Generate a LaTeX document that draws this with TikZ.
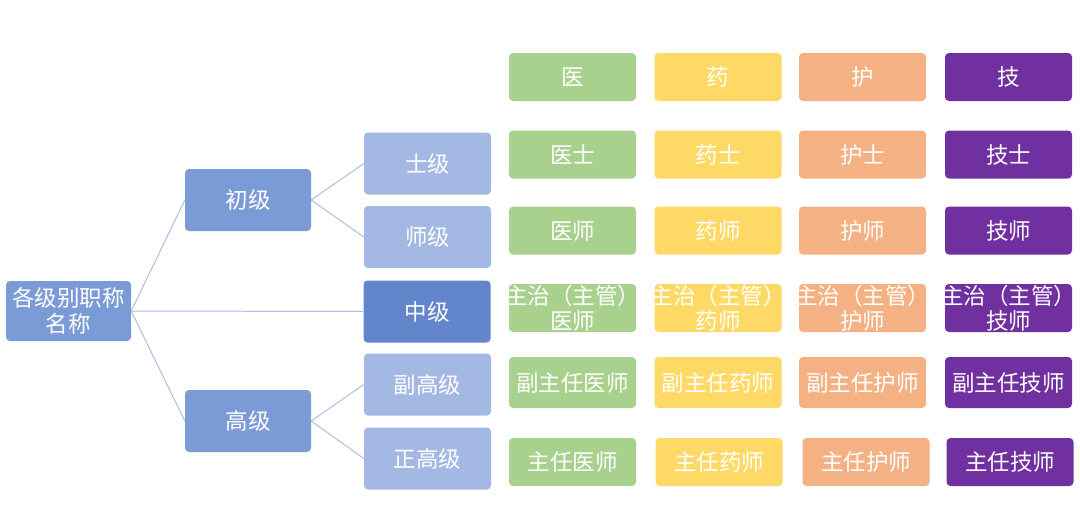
\documentclass[tikz,border=0pt]{standalone}
\usepackage{fontspec}
\newfontfamily\cjk{Noto Sans CJK SC}
\definecolor{cmed}{HTML}{A9D18E}
\definecolor{cyao}{HTML}{FFD966}
\definecolor{chu}{HTML}{F4B183}
\definecolor{cji}{HTML}{7030A0}
\definecolor{bmain}{HTML}{7B9BD6}
\definecolor{blight}{HTML}{A3B8E3}
\definecolor{bdark}{HTML}{6385CB}
\definecolor{linec}{HTML}{AEBDE4}
\newcommand{\zwl}[1]{\makebox[0pt]{#1}}
\begin{document}
\begin{tikzpicture}[x=1pt,y=-1pt,
  base/.style={rounded corners=4pt, inner sep=0pt, text=white, align=center,
    font=\cjk\fontsize{22.5}{26}\selectfont},
  lvl/.style={base, fill=bmain, minimum width=126pt, minimum height=62pt},
  sub/.style={base, fill=blight, minimum width=127pt, minimum height=62pt},
  mid/.style={base, fill=bdark, minimum width=127pt, minimum height=62pt},
  cell/.style={base, minimum width=127pt, minimum height=48pt, font=\cjk\fontsize{22.5}{25}\selectfont},
  conn/.style={draw=linec, line width=1pt}]
\useasboundingbox (0,0) rectangle (1080,523);
% tree
\node[lvl, minimum width=125pt, minimum height=60pt] (root) at (68.5,311) {各级别职称\\名称};
\node[lvl] (chu) at (248,200) {初级};
\node[lvl] (gao) at (248,421) {高级};
\node[sub] (shi) at (427.5,163.5) {士级};
\node[sub] (shj) at (427.5,237) {师级};
\node[mid] (zhong) at (427,311.5) {中级};
\node[sub] (fgao) at (427.5,384.5) {副高级};
\node[sub] (zgao) at (427.5,458.5) {正高级};
\draw[conn] (root.east) -- (chu.west);
\draw[conn] (root.east) -- (gao.west);
\draw[conn] (root.east) -- (zhong.west);
\draw[conn] (chu.east) -- (shi.west);
\draw[conn] (chu.east) -- (shj.west);
\draw[conn] (gao.east) -- (fgao.west);
\draw[conn] (gao.east) -- (zgao.west);
% grid
\node[cell, fill=cmed] (g01) at (572.5,77) {医};
\node[cell, fill=cyao] (g02) at (718,77) {药};
\node[cell, fill=chu]  (g03) at (862.5,77) {护};
\node[cell, fill=cji]  (g04) at (1008.5,77) {技};
\node[cell, fill=cmed] (g11) at (572.5,154.5) {医士};
\node[cell, fill=cyao] (g12) at (718,154.5) {药士};
\node[cell, fill=chu]  (g13) at (862.5,154.5) {护士};
\node[cell, fill=cji]  (g14) at (1008.5,154.5) {技士};
\node[cell, fill=cmed] (g21) at (572.5,230.5) {医师};
\node[cell, fill=cyao] (g22) at (718,230.5) {药师};
\node[cell, fill=chu]  (g23) at (862.5,230.5) {护师};
\node[cell, fill=cji]  (g24) at (1008.5,230.5) {技师};
\node[cell, fill=cmed] (g31) at (572.5,308) {\zwl{主治（主管）}\\医师};
\node[cell, fill=cyao] (g32) at (718,308) {\zwl{主治（主管）}\\药师};
\node[cell, fill=chu]  (g33) at (862.5,308) {\zwl{主治（主管）}\\护师};
\node[cell, fill=cji]  (g34) at (1008.5,308) {\zwl{主治（主管）}\\技师};
\node[cell, fill=cmed, minimum height=51pt] (g41) at (572.5,382.5) {副主任医师};
\node[cell, fill=cyao, minimum height=51pt] (g42) at (718,382.5) {副主任药师};
\node[cell, fill=chu,  minimum height=51pt] (g43) at (862.5,382.5) {副主任护师};
\node[cell, fill=cji,  minimum height=51pt] (g44) at (1008.5,382.5) {副主任技师};
\node[cell, fill=cmed] (g51) at (572.5,462) {主任医师};
\node[cell, fill=cyao] (g52) at (719,462) {主任药师};
\node[cell, fill=chu]  (g53) at (866,462) {主任护师};
\node[cell, fill=cji]  (g54) at (1010,462) {主任技师};
\end{tikzpicture}
\end{document}
